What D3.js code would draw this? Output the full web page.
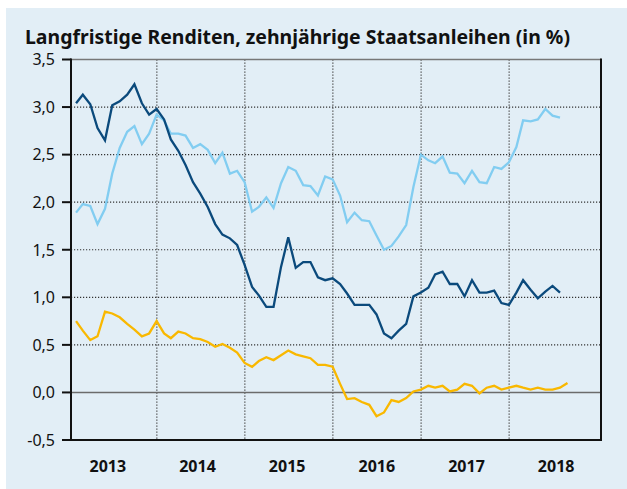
<!DOCTYPE html>
<html>
<head>
<meta charset="utf-8">
<script src="https://cdn.jsdelivr.net/npm/d3@7"></script>
<style>
  body { margin: 0; background: #fff; }
  text { font-family: "Noto Sans", sans-serif; fill: #111; }
</style>
</head>
<body>
<svg id="chart" width="627" height="489"></svg>
<script>

// monthly values from Jan 2013
var startYear = 2013, startMonth = 0

var euroArea = [3.04, 3.13, 3.03, 2.78, 2.65, 3.02, 3.06, 3.13, 3.24, 3.04, 2.92, 2.98,
  2.87, 2.66, 2.54, 2.39, 2.21, 2.09, 1.95, 1.77, 1.66, 1.62, 1.55, 1.34,
  1.11, 1.02, 0.90, 0.90, 1.32, 1.63, 1.31, 1.37, 1.37, 1.21, 1.18, 1.20,
  1.14, 1.04, 0.92, 0.92, 0.92, 0.82, 0.62, 0.57, 0.65, 0.72, 1.01, 1.05,
  1.10, 1.24, 1.27, 1.14, 1.14, 1.01, 1.18, 1.05, 1.05, 1.07, 0.94, 0.92,
  1.05, 1.18, 1.08, 0.99, 1.06, 1.12, 1.05]

var unitedStates = [1.89, 1.98, 1.96, 1.77, 1.93, 2.30, 2.57, 2.74, 2.80, 2.61, 2.72, 2.92,
  2.86, 2.72, 2.72, 2.70, 2.57, 2.61, 2.55, 2.41, 2.52, 2.30, 2.33, 2.21,
  1.90, 1.95, 2.05, 1.94, 2.20, 2.37, 2.33, 2.18, 2.17, 2.07, 2.27, 2.24,
  2.07, 1.79, 1.89, 1.81, 1.80, 1.65, 1.50, 1.54, 1.64, 1.76, 2.16, 2.50,
  2.44, 2.41, 2.48, 2.31, 2.30, 2.20, 2.33, 2.21, 2.20, 2.37, 2.35, 2.42,
  2.58, 2.86, 2.85, 2.87, 2.98, 2.91, 2.89]

var japan = [0.75, 0.65, 0.55, 0.59, 0.85, 0.83, 0.79, 0.72, 0.66, 0.59, 0.62, 0.75,
  0.62, 0.57, 0.64, 0.62, 0.57, 0.56, 0.53, 0.48, 0.51, 0.47, 0.42, 0.31,
  0.27, 0.33, 0.37, 0.34, 0.39, 0.44, 0.40, 0.38, 0.36, 0.29, 0.29, 0.27,
  0.09, -0.07, -0.06, -0.10, -0.13, -0.25, -0.21, -0.08, -0.10, -0.06, 0.01, 0.03,
  0.07, 0.05, 0.07, 0.01, 0.03, 0.09, 0.07, -0.01, 0.05, 0.07, 0.03, 0.05,
  0.07, 0.05, 0.03, 0.05, 0.03, 0.03, 0.05, 0.10]

var years = [2013, 2014, 2015, 2016, 2017, 2018]
var yTicks = [-0.5, 0, 0.5, 1, 1.5, 2, 2.5, 3, 3.5]
var title = "Langfristige Renditen, zehnjährige Staatsanleihen (in %)"

var series = [
  {name: "unitedStates", values: unitedStates, color: "#82cdf1"},
  {name: "japan", values: japan, color: "#f9b800"},
  {name: "euroArea", values: euroArea, color: "#0b4a7c"}
]

var svg = d3.select("#chart"),
    margin = {top: 59.5, left: 71, bottom: 49, right: 26},
    width = +svg.attr("width"),
    height = +svg.attr("height")

// values are month-end observations
function monthDate(i) { return new Date(startYear, startMonth + i + 1, 0) }

var x = d3.scaleTime()
    .domain([new Date(2013, 0, 10), new Date(2019, 0, 17)])
    .range([margin.left, width - margin.right])

var y = d3.scaleLinear()
    .domain([-0.5, 3.5])
    .range([height - margin.bottom, margin.top])

var xLabels = d3.scaleBand()
    .domain(years)
    .range([63, width - margin.right])

svg.append("rect")
    .attr("x", 6).attr("y", 8)
    .attr("width", width - 6).attr("height", height - 8)
    .attr("fill", "#e2eef6")

svg.append("text")
    .attr("x", 25).attr("y", 44)
    .attr("textLength", 545).attr("lengthAdjust", "spacingAndGlyphs")
    .style("font-size", "19px").style("font-weight", "bold")
    .text(title)

// dotted grid
svg.append("g").selectAll("line")
    .data(yTicks.filter(d => d > 0 && d < 3.5))
    .enter().append("line")
    .attr("x1", margin.left).attr("x2", width - margin.right)
    .attr("y1", d => y(d)).attr("y2", d => y(d))
    .attr("stroke", "#333").attr("stroke-width", 1.2)
    .attr("stroke-dasharray", "1.2,1.8")

svg.append("g").selectAll("line")
    .data(years.slice(1))
    .enter().append("line")
    .attr("x1", d => x(new Date(d, 0, 1))).attr("x2", d => x(new Date(d, 0, 1)))
    .attr("y1", margin.top).attr("y2", y(-0.5))
    .attr("stroke", "#444").attr("stroke-width", 1.2)
    .attr("stroke-dasharray", "1.2,1.8")

// zero line and top border
svg.append("line")
    .attr("x1", margin.left).attr("x2", width - margin.right)
    .attr("y1", y(0)).attr("y2", y(0))
    .attr("stroke", "#6b6b6b").attr("stroke-width", 1.6)

svg.append("line")
    .attr("x1", margin.left).attr("x2", width - margin.right)
    .attr("y1", margin.top).attr("y2", margin.top)
    .attr("stroke", "#777").attr("stroke-width", 1.3)

var line = d3.line()
    .x((d, i) => x(monthDate(i)))
    .y(d => y(d))

svg.append("g").selectAll("path")
    .data(series)
    .enter().append("path")
    .attr("d", d => line(d.values))
    .attr("fill", "none")
    .attr("stroke", d => d.color)
    .attr("stroke-width", 2.3)
    .attr("stroke-linejoin", "miter")

// axes frame
svg.append("line")
    .attr("x1", margin.left).attr("x2", margin.left)
    .attr("y1", margin.top - 1).attr("y2", y(-0.5) + 1)
    .attr("stroke", "#111").attr("stroke-width", 2)

svg.append("line")
    .attr("x1", width - margin.right).attr("x2", width - margin.right)
    .attr("y1", margin.top - 1).attr("y2", y(-0.5) + 1)
    .attr("stroke", "#111").attr("stroke-width", 2)

svg.append("line")
    .attr("x1", 62).attr("x2", width - margin.right + 1)
    .attr("y1", y(-0.5)).attr("y2", y(-0.5))
    .attr("stroke", "#111").attr("stroke-width", 2)

var yAxis = svg.append("g")
yAxis.selectAll("line")
    .data(yTicks)
    .enter().append("line")
    .attr("x1", 62).attr("x2", margin.left)
    .attr("y1", d => y(d)).attr("y2", d => y(d))
    .attr("stroke", "#111").attr("stroke-width", 2)

yAxis.selectAll("text")
    .data(yTicks)
    .enter().append("text")
    .attr("x", 55).attr("y", d => y(d))
    .attr("dy", "0.36em")
    .attr("text-anchor", "end")
    .style("font-size", "16px")
    .text(d => d3.format(".1f")(d).replace(".", ",").replace("−", "-"))

svg.append("g").selectAll("text")
    .data(years)
    .enter().append("text")
    .attr("x", d => xLabels(d) + xLabels.bandwidth() / 2)
    .attr("y", 472)
    .attr("text-anchor", "middle")
    .style("font-size", "16px").style("font-weight", "bold")
    .text(d => d)

</script>
</body>
</html>
